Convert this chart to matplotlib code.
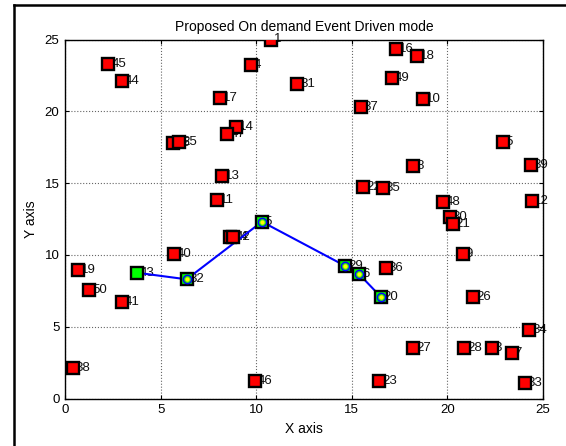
import matplotlib
matplotlib.use("Agg")
import matplotlib.pyplot as plt
from matplotlib.lines import Line2D

plt.rcParams['font.family'] = ['Liberation Sans', 'DejaVu Sans']

# Nodes (not on route)
node_x = [2.27, 2.96, 8.10, 9.71, 10.76, 8.94, 8.49, 5.66, 5.96, 8.21, 7.97,
          17.31, 18.39, 17.08, 18.71, 15.46, 12.15, 22.89, 18.22, 24.35, 15.60,
          16.61, 19.75, 24.40, 20.14, 20.28, 20.80, 16.79, 21.36, 24.28, 18.22,
          20.87, 22.32, 23.36, 24.06, 16.44, 8.63, 8.80, 5.70, 0.70, 1.27, 2.96,
          0.40, 9.95]
node_y = [23.30, 22.10, 20.95, 23.20, 25.00, 18.93, 18.42, 17.81, 17.88, 15.49, 13.82,
          24.32, 23.85, 22.34, 20.88, 20.30, 21.90, 17.88, 16.21, 16.28, 14.75,
          14.68, 13.66, 13.75, 12.66, 12.15, 10.04, 9.07, 7.09, 4.77, 3.54,
          3.54, 3.54, 3.15, 1.10, 1.22, 11.27, 11.22, 10.04, 8.95, 7.56, 6.70,
          2.10, 1.24]
node_labels = ['45', '44', '17', '4', '1', '14', '47', '15', '25', '13', '11',
               '16', '18', '49', '10', '37', '31', '5', '8', '39', '22',
               '35', '48', '12', '30', '21', '9', '36', '26', '34', '27',
               '28', '3', '7', '33', '23', '24', '42', '40', '19', '50', '41',
               '38', '46']

# Route nodes
route_x = [3.75, 6.36, 10.30, 14.66, 15.39, 16.51]
route_y = [8.76, 8.30, 12.31, 9.23, 8.65, 7.09]
route_labels = ['43', '32', '5', '29', '6', '20']

title = "Proposed On demand Event Driven mode"
ticks = [0, 5, 10, 15, 20, 25]

fig = plt.figure(figsize=(5.66, 4.46), dpi=100)
ax = fig.add_axes([65/566, 47.5/446, 478/566, 359/446])

# labels (under markers)
lab_dx = 0.15
for x, y, t in zip(node_x, node_y, node_labels):
    ax.text(x + lab_dx, y, t, fontsize=9.5, va='center', ha='left', zorder=2, color='#111111')
for x, y, t in zip(route_x, route_y, route_labels):
    ax.text(x + lab_dx, y, t, fontsize=9.5, va='center', ha='left', zorder=2, color='#111111')

ax.plot(node_x, node_y, linestyle='none', marker='s', markersize=8.5,
        markerfacecolor='red', markeredgecolor='black', markeredgewidth=1.7, zorder=4)

ax.plot(route_x, route_y, color='blue', linewidth=1.5, zorder=3)
ax.plot(route_x, route_y, linestyle='none', marker='s', markersize=8.5,
        markerfacecolor='#00ff00', markeredgecolor='black', markeredgewidth=1.7, zorder=4)
ax.plot(route_x[1:], route_y[1:], linestyle='none', marker='o', markersize=6,
        markerfacecolor='#22dd22', markeredgecolor='blue', markeredgewidth=1.0, zorder=5)
ax.plot(route_x[1:], route_y[1:], linestyle='none', marker='o', markersize=2.8,
        markerfacecolor='yellow', markeredgecolor='yellow', markeredgewidth=0.3, zorder=6)

ax.set_xlim(0, 25)
ax.set_ylim(0, 25)
ax.set_xticks(ticks)
ax.set_yticks(ticks)
ax.set_xticklabels([str(t) for t in ticks], fontsize=9.5)
ax.set_yticklabels([str(t) for t in ticks], fontsize=9.5)
ax.tick_params(direction='in', length=3, width=0.8, top=True, right=True, pad=4)
ax.grid(True, linestyle=':', color='#666666', linewidth=0.8)
ax.set_axisbelow(True)
for s in ax.spines.values():
    s.set_linewidth(1.0)

ax.set_title(title, fontsize=10, pad=6)
ax.set_xlabel("X axis", fontsize=10, labelpad=4)
ax.set_ylabel("Y axis", fontsize=10, labelpad=5)

# figure border (cropped frame)
fig.add_artist(Line2D([13.5/566, 13.5/566], [0, 1 - 5/446], transform=fig.transFigure,
                      color='black', linewidth=1.8))
fig.add_artist(Line2D([13.5/566, 1], [1 - 5/446, 1 - 5/446], transform=fig.transFigure,
                      color='black', linewidth=1.8))

fig.savefig("out.png", dpi=100)
